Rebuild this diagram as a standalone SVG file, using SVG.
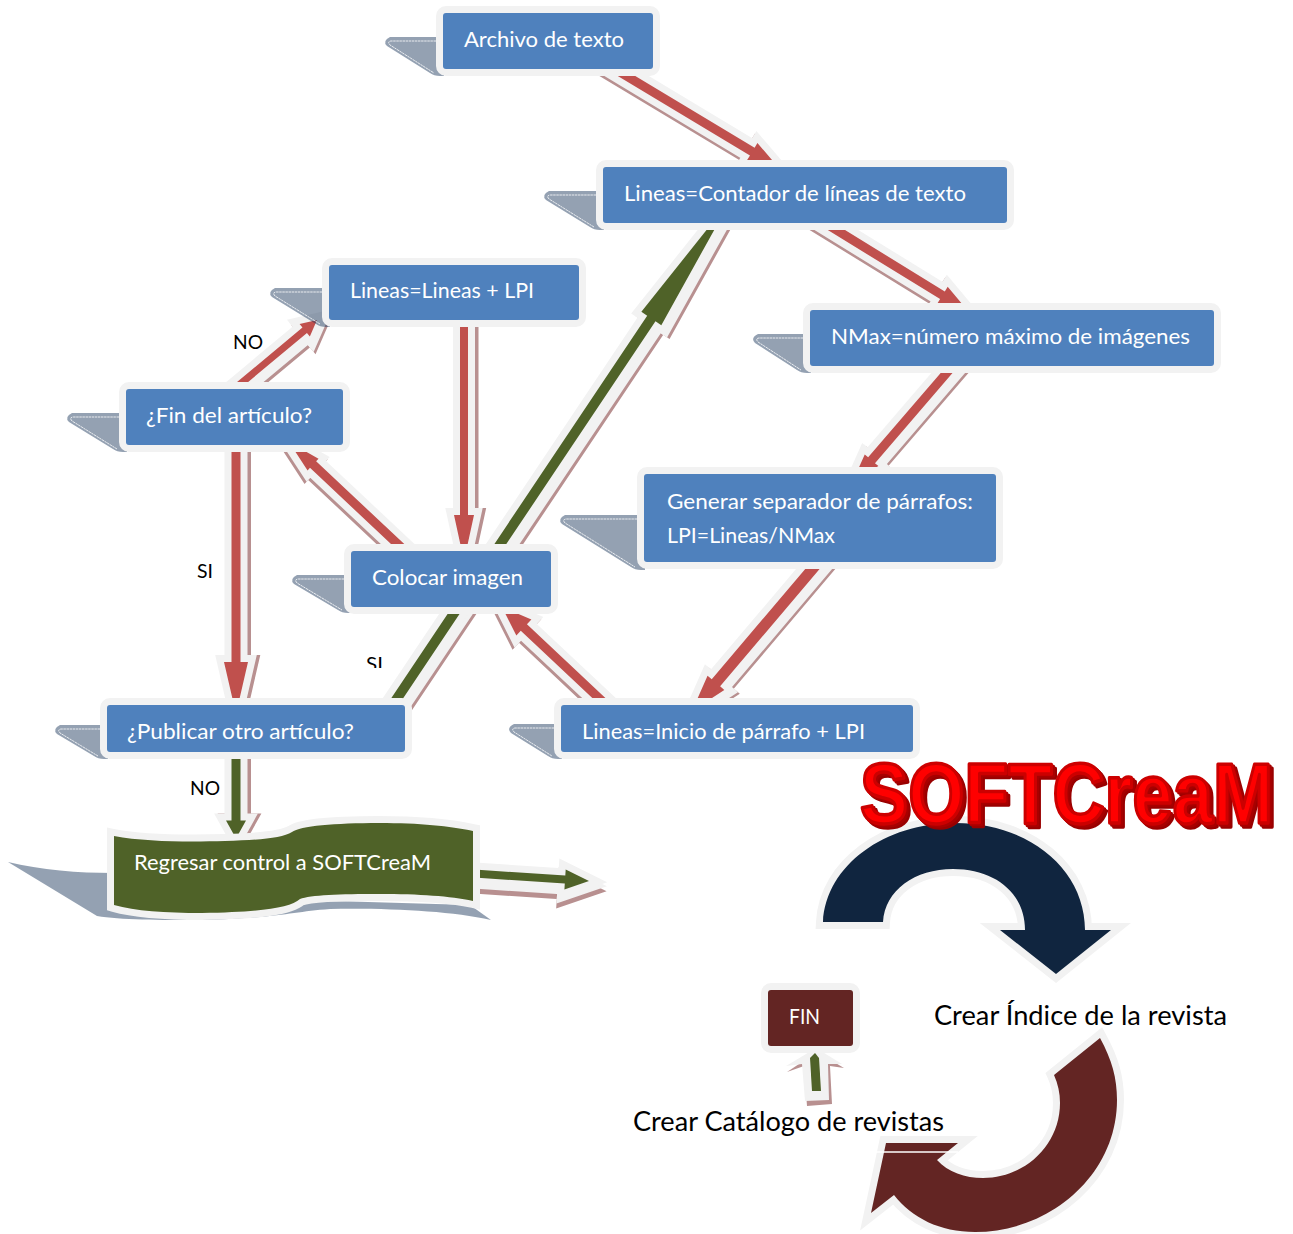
<svg xmlns="http://www.w3.org/2000/svg" width="1293" height="1234" viewBox="0 0 1293 1234">
<style>
text{font-family:Lato,"Noto Sans","Liberation Sans",sans-serif}
.w{fill:#fff;font-size:22px}
.b{fill:#000;font-size:20px}
.k{fill:#000;font-size:27px}
.box{fill:#4f81bd;stroke:#f2f2f2;stroke-width:14;paint-order:stroke}
.tail{fill:#1f3a5f;fill-opacity:.48}
.dot{fill:none;stroke:#fff;stroke-width:.8;stroke-dasharray:2.5 .6}
.sh{fill:#b89090;stroke:#b89090;stroke-width:14;stroke-miterlimit:8}
.ha{fill:#f2f2f2;stroke:#f2f2f2;stroke-width:14;stroke-miterlimit:8}
.red{fill:#c0504d}
.grn{fill:#4f6228}
.big{stroke:#f2f2f2;stroke-width:14;stroke-miterlimit:8;paint-order:stroke}
</style>
<defs>
<clipPath id="c1"><rect x="225" y="325" width="50" height="25"/></clipPath>
<clipPath id="c2"><rect x="360" y="645" width="30" height="23"/></clipPath>
<filter id="ex" x="-5%" y="-20%" width="110%" height="150%">
<feOffset in="SourceAlpha" dx="3.500" dy="3.500" result="o1"/>
<feFlood flood-color="#990000"/><feComposite in2="o1" operator="in" result="d1"/>
<feOffset in="SourceAlpha" dx="1.800" dy="1.800" result="o2"/>
<feFlood flood-color="#a80000"/><feComposite in2="o2" operator="in" result="d2"/>
<feMerge><feMergeNode in="d1"/><feMergeNode in="d2"/><feMergeNode in="SourceGraphic"/></feMerge>
</filter>
</defs>

<g id="connectors">
<g transform="translate(778 167) rotate(31)"><path class="sh" transform="translate(0 2.5)" d="M-208-4.5H-30V-10L0 0-30 10V4.500H-208Z"/><path class="ha" d="M-208-4.5H-30V-10L0 0-30 10V4.500H-208Z"/><path class="red" d="M-208-4.5H-30V-10L0 0-30 10V4.500H-208Z"/></g>
<g transform="translate(968 311) rotate(31.6)"><path class="sh" transform="translate(0 2.5)" d="M-200-4.5H-30V-10L0 0-30 10V4.500H-200Z"/><path class="ha" d="M-200-4.5H-30V-10L0 0-30 10V4.500H-200Z"/><path class="red" d="M-200-4.5H-30V-10L0 0-30 10V4.500H-200Z"/></g>
<g transform="translate(852 483) rotate(130.7)"><path class="sh" transform="translate(0 -5)" d="M-165-4.500H-30V-9L0 0-30 9V4.500H-165Z"/><path class="ha" transform="translate(0 -2.500)" d="M-165-4.500H-30V-9L0 0-30 9V4.500H-165Z"/><path class="ha" d="M-165-4.500H-30V-9L0 0-30 9V4.500H-165Z"/><path class="red" d="M-165-4.500H-30V-9L0 0-30 9V4.500H-165Z"/></g>
<g transform="translate(692 711) rotate(130.3)"><path class="sh" transform="translate(0 -5)" d="M-215-5.500H-37V-11L0 0-37 11V5.500H-215Z"/><path class="ha" transform="translate(0 -2.500)" d="M-215-5.500H-37V-11L0 0-37 11V5.500H-215Z"/><path class="ha" d="M-215-5.500H-37V-11L0 0-37 11V5.500H-215Z"/><path class="red" d="M-215-5.500H-37V-11L0 0-37 11V5.500H-215Z"/></g>
<g transform="translate(502 607) rotate(-136.800)"><path class="sh" transform="translate(0 -3)" d="M-150-4.500H-30V-11L0 0-30 11V4.500H-150Z"/><path class="ha" d="M-150-4.500H-30V-11L0 0-30 11V4.500H-150Z"/><path class="red" d="M-150-4.500H-30V-11L0 0-30 11V4.500H-150Z"/></g>
<g transform="translate(289 442) rotate(-136.800)"><path class="sh" transform="translate(0 -3)" d="M-166-4.500H-33V-8L0 0-33 8V4.500H-166Z"/><path class="ha" d="M-166-4.500H-33V-8L0 0-33 8V4.500H-166Z"/><path class="red" d="M-166-4.500H-33V-8L0 0-33 8V4.500H-166Z"/></g>
<g transform="translate(317 320) rotate(-39.800)"><path class="sh" transform="translate(0 6)" d="M-107-3.500H-16V-8L0 0-16 8V3.500H-107Z"/><path class="ha" transform="translate(0 3)" d="M-107-3.500H-16V-8L0 0-16 8V3.500H-107Z"/><path class="ha" d="M-107-3.500H-16V-8L0 0-16 8V3.500H-107Z"/><path class="red" d="M-107-3.500H-16V-8L0 0-16 8V3.500H-107Z"/></g>
<g transform="translate(464 561) rotate(90)"><path class="sh" transform="translate(0 -3.500)" d="M-241-4H-46V-10L0 0-46 10V4H-241Z"/><path class="ha" d="M-241-4H-46V-10L0 0-46 10V4H-241Z"/><path class="red" d="M-241-4H-46V-10L0 0-46 10V4H-241Z"/></g>
<g transform="translate(236 714) rotate(90)"><path class="sh" transform="translate(0 -3.500)" d="M-270-4.500H-52V-12L0 0-52 12V4.500H-270Z"/><path class="ha" d="M-270-4.500H-52V-12L0 0-52 12V4.500H-270Z"/><path class="red" d="M-270-4.500H-52V-12L0 0-52 12V4.500H-270Z"/></g>
<g transform="translate(732 198) rotate(-56.200)"><path class="sh" transform="translate(0 7)" d="M-607-5H-145V-12L0 0-145 12V5H-607Z"/><path class="ha" transform="translate(0 4)" d="M-607-5H-145V-12L0 0-145 12V5H-607Z"/><path class="ha" d="M-607-5H-145V-12L0 0-145 12V5H-607Z"/><path class="grn" d="M-607-5H-145V-12L0 0-145 12V5H-607Z"/></g>
<g transform="translate(236 838.500) rotate(90)"><path class="sh" transform="translate(0 -3.500)" d="M-85-4.500H-18V-10L0 0-18 10V4.500H-85Z"/><path class="ha" d="M-85-4.500H-18V-10L0 0-18 10V4.500H-85Z"/><path class="grn" d="M-85-4.500H-18V-10L0 0-18 10V4.500H-85Z"/></g>
<g transform="translate(589 881) rotate(3.700)"><path class="sh" transform="translate(0 9)" d="M-115-4H-24V-10L0 0-24 10V4H-115Z"/><path class="ha" transform="translate(0 4)" d="M-115-4H-24V-10L0 0-24 10V4H-115Z"/><path class="ha" d="M-115-4H-24V-10L0 0-24 10V4H-115Z"/><path class="grn" d="M-115-4H-24V-10L0 0-24 10V4H-115Z"/></g>
<path class="sh" style="stroke:none" d="M787 1072L817 1052 844 1068 830 1066 832 1104 807 1106 804 1066Z"/>
<path class="ha" style="stroke:none" d="M786 1066L816 1048 842 1064 828 1064 829 1100 805 1101 802 1064Z"/>
<path class="grn" d="M812 1091H821L819 1058 815 1053 810 1058Z"/>
</g>

<g id="n-archivo"><path class="tail" d="M390 37H444V76H440Q434 76 430 73L387 46Q382 41 390 37Z"/><path class="dot" d="M436 41H391Q387 41.500 390 45L434 73"/><rect class="box" x="443" y="13" width="210" height="56" rx="3"/><text class="w" x="464" y="47" textLength="160" lengthAdjust="spacingAndGlyphs">Archivo de texto</text></g>
<g id="n-contador"><path class="tail" d="M549 191H604V230H600Q594 230 590 227L546 200Q541 195 549 191Z"/><path class="dot" d="M596 195H550Q546 195.500 549 199L594 227"/><rect class="box" x="603" y="167" width="404" height="56" rx="3"/><text class="w" x="624" y="201" textLength="342" lengthAdjust="spacingAndGlyphs">Lineas=Contador de líneas de texto</text></g>
<g id="n-nmax"><path class="tail" d="M758 334H811V373H807Q801 373 797 370L755 343Q750 338 758 334Z"/><path class="dot" d="M803 338H759Q755 338.500 758 342L801 370"/><rect class="box" x="810" y="310" width="404" height="56" rx="3"/><text class="w" x="831" y="344" textLength="359" lengthAdjust="spacingAndGlyphs">NMax=número máximo de imágenes</text></g>
<g id="n-generar"><path class="tail" d="M565 515H645V570H641Q635 570 631 567L562 524Q557 519 565 515Z"/><path class="dot" d="M637 519H566Q562 519.500 565 523L635 567"/><rect class="box" x="644" y="474" width="352" height="88" rx="3"/><text class="w" x="667" y="509" textLength="306" lengthAdjust="spacingAndGlyphs">Generar separador de párrafos:</text><text class="w" x="667" y="543" textLength="168" lengthAdjust="spacingAndGlyphs">LPI=Lineas/NMax</text></g>
<g id="n-inicio"><path class="tail" d="M514 724H562V759H558Q552 759 548 756L511 733Q506 728 514 724Z"/><path class="dot" d="M554 728H515Q511 728.500 514 732L552 756"/><rect class="box" x="561" y="705" width="352" height="47" rx="3"/><text class="w" x="582" y="739" textLength="283" lengthAdjust="spacingAndGlyphs">Lineas=Inicio de párrafo + LPI</text></g>
<g id="n-colocar"><path class="tail" d="M297 575H352V613H348Q342 613 338 610L294 584Q289 579 297 575Z"/><path class="dot" d="M344 579H298Q294 579.500 297 583L342 610"/><rect class="box" x="351" y="551" width="200" height="56" rx="3"/><text class="w" x="372" y="585" textLength="151" lengthAdjust="spacingAndGlyphs">Colocar imagen</text></g>
<g id="n-lineas"><path class="tail" d="M275 288H330V327H326Q320 327 316 324L272 297Q267 292 275 288Z"/><path class="dot" d="M322 292H276Q272 292.500 275 296L320 324"/><rect class="box" x="329" y="265" width="250" height="55" rx="3"/><text class="w" x="350" y="298" textLength="184" lengthAdjust="spacingAndGlyphs">Lineas=Lineas + LPI</text></g>
<g id="n-fin-articulo"><path class="tail" d="M72 413H127V452H123Q117 452 113 449L69 422Q64 417 72 413Z"/><path class="dot" d="M119 417H73Q69 417.500 72 421L117 449"/><rect class="box" x="126" y="389" width="217" height="56" rx="3"/><text class="w" x="146" y="423" textLength="166" lengthAdjust="spacingAndGlyphs">¿Fin del artículo?</text></g>
<g id="n-publicar"><path class="tail" d="M60 725H108V759H104Q98 759 94 756L57 734Q52 729 60 725Z"/><path class="dot" d="M100 729H61Q57 729.500 60 733L98 756"/><rect class="box" x="107" y="705" width="298" height="47" rx="3"/><text class="w" x="127" y="739" textLength="227" lengthAdjust="spacingAndGlyphs">¿Publicar otro artículo?</text></g>

<g id="n-regresar">
<path class="tail" d="M8 862C40 870 80 873 112 873L300 900 470 905 491 920C450 911 390 908 330 909 290 912 280 918 200 920 160 920 120 920 97 916Z"/>
<path class="big" fill="#4f6228" d="M114 836C145 842 190 842 225 841 260 840 282 838 292 832 300 826 335 823 379 823 420 823 450 826 473 831V901C450 896 420 894 379 894 340 894 310 895 300 899 290 908 260 912 202 913 165 913 135 911 114 905Z"/>
<text class="w" x="134" y="870" textLength="297" lengthAdjust="spacingAndGlyphs">Regresar control a SOFTCreaM</text>
</g>

<g id="n-fin"><rect class="box" style="fill:#632523" x="768" y="990" width="85" height="56" rx="3"/><text class="w" x="789" y="1024" textLength="31" lengthAdjust="spacingAndGlyphs">FIN</text></g>

<g id="labels">
<text class="b" x="233" y="349" textLength="30" lengthAdjust="spacingAndGlyphs" clip-path="url(#c1)">NO</text>
<text class="b" x="197" y="578" textLength="16" lengthAdjust="spacingAndGlyphs">SI</text>
<text class="b" x="366" y="671" textLength="17" lengthAdjust="spacingAndGlyphs" clip-path="url(#c2)">SI</text>
<text class="b" x="190" y="795" textLength="30" lengthAdjust="spacingAndGlyphs">NO</text>
</g>

<g id="n-indice">
<path class="big" fill="#10253f" d="M823 922C826 865 885 823 955 823 1030 823 1085 870 1085 930H1111L1056 974 1000 930H1025C1025 893 995 869 953 869 915 869 885 890 883 922Z"/>
<text class="k" x="934" y="1025" textLength="293" lengthAdjust="spacingAndGlyphs">Crear Índice de la revista</text>
</g>
<g id="n-catalogo">
<path class="big" fill="#632523" d="M1100 1038C1112 1060 1117 1078 1117 1100 1117 1175 1050 1232 975 1232 940 1232 912 1218 894 1195L871 1213 886 1143H958L937 1160C948 1172 965 1178 983 1178 1025 1178 1060 1145 1060 1103 1060 1093 1058 1084 1054 1075Z"/>
<path stroke="#fff" stroke-width="1.500" d="M876 1152H958"/>
<text class="k" x="633" y="1131" textLength="311" lengthAdjust="spacingAndGlyphs">Crear Catálogo de revistas</text>
</g>
<g id="logo"><text x="860" y="823" textLength="413" lengthAdjust="spacingAndGlyphs" filter="url(#ex)" style="font-family:'Liberation Sans',Arial,sans-serif;font-weight:700;font-size:86px;fill:#f00;stroke:#cc0000;stroke-width:3.500;stroke-linejoin:round">SOFTCreaM</text></g>
</svg>
